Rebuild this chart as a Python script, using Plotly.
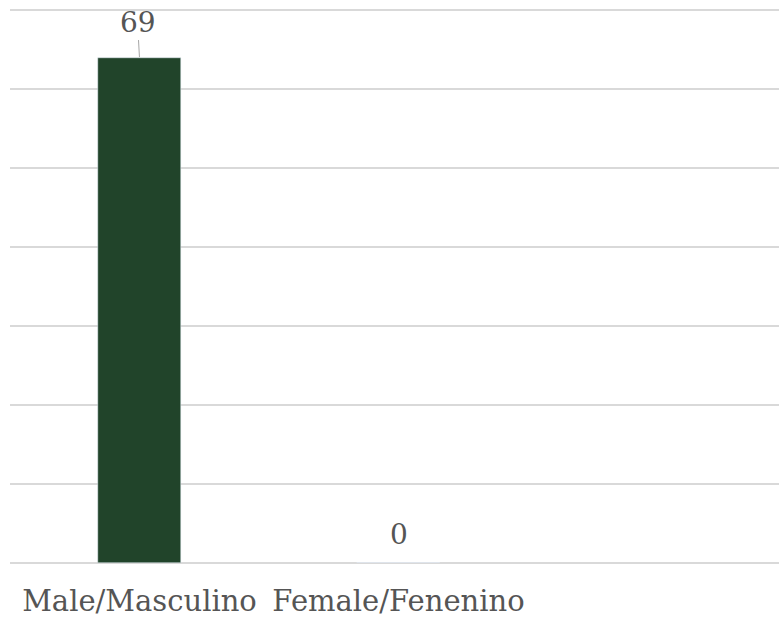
import plotly.graph_objects as go

categories = ["Male/Masculino", "Female/Fenenino"]
values = [69, 0]

BAR = "#21442A"
TXT = "#555555"
GRID = "#D9D9D9"
FONT = "DejaVu Serif"

fig = go.Figure()
fig.add_trace(go.Bar(x=categories, y=values, marker_color=BAR, width=0.317,
                     hoverinfo="skip"))

# data labels
fig.add_annotation(x=categories[0], y=values[0], text=str(values[0]),
                   showarrow=True, arrowhead=0, arrowwidth=1, arrowcolor="#A6A6A6",
                   ax=-2, ay=-36, standoff=1,
                   font=dict(family=FONT, size=28, color=TXT))
fig.add_annotation(x=categories[1], y=values[1], text=str(values[1]),
                   showarrow=False, yshift=29,
                   font=dict(family=FONT, size=28, color=TXT))

gstep = 75.5 / 7
fig.update_layout(
    width=779, height=626,
    margin=dict(l=10, r=0, t=8, b=63),
    plot_bgcolor="white", paper_bgcolor="white",
    showlegend=False,
    bargap=0,
    xaxis=dict(type="category", range=[-0.5, 2.469], showgrid=False, zeroline=False,
               showline=False, ticks="", ticklabelstandoff=18,
               tickfont=dict(family=FONT, size=29, color=TXT)),
    yaxis=dict(range=[0, 75.84], tick0=0, dtick=gstep, showticklabels=False,
               showgrid=True, gridcolor=GRID, gridwidth=1.5,
               zeroline=True, zerolinecolor=GRID, zerolinewidth=1.5, showline=False),
)
fig.write_html("out.html", config={"displayModeBar": False},
               post_script="document.body.style.margin='0px';")
